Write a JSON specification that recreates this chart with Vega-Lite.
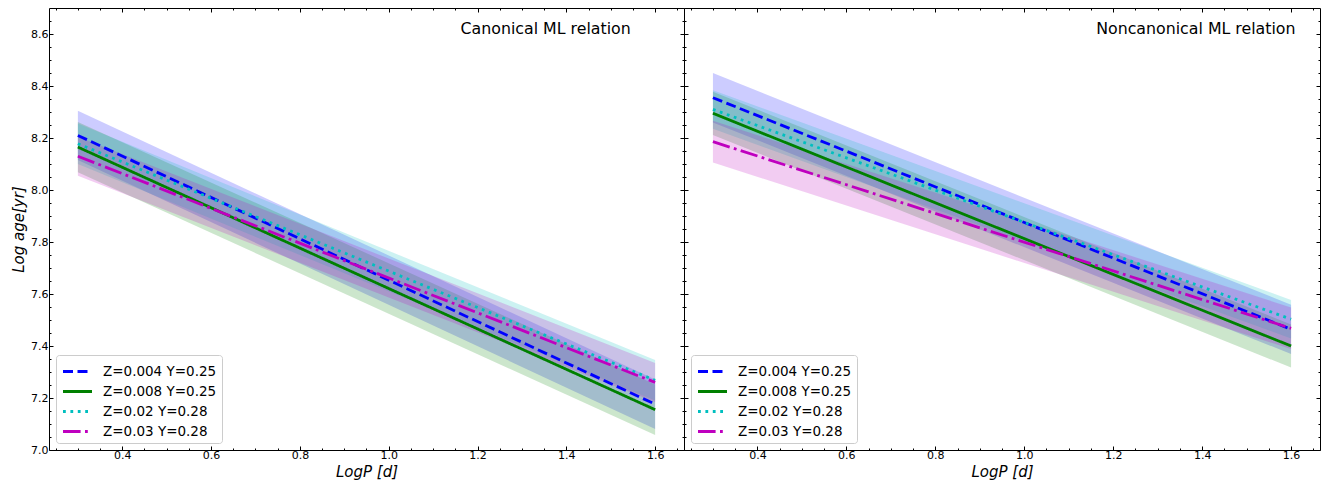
{
  "$schema": "https://vega.github.io/schema/vega-lite/v6.json",
  "padding": {"left": 11, "right": 1, "top": 7, "bottom": 4},
  "background": "white",
  "datasets": {
    "canon": [
      {"series": "Z=0.004 Y=0.25", "x": 0.3, "y": 8.21, "lo": 8.115, "hi": 8.305},
      {"series": "Z=0.004 Y=0.25", "x": 1.6, "y": 7.176, "lo": 7.081, "hi": 7.271},
      {"series": "Z=0.008 Y=0.25", "x": 0.3, "y": 8.165, "lo": 8.068, "hi": 8.262},
      {"series": "Z=0.008 Y=0.25", "x": 1.6, "y": 7.155, "lo": 7.058, "hi": 7.252},
      {"series": "Z=0.02 Y=0.28", "x": 0.3, "y": 8.178, "lo": 8.1, "hi": 8.256},
      {"series": "Z=0.02 Y=0.28", "x": 1.6, "y": 7.268, "lo": 7.19, "hi": 7.346},
      {"series": "Z=0.03 Y=0.28", "x": 0.3, "y": 8.13, "lo": 8.055, "hi": 8.205},
      {"series": "Z=0.03 Y=0.28", "x": 1.6, "y": 7.26, "lo": 7.185, "hi": 7.335}
    ],
    "noncanon": [
      {"series": "Z=0.004 Y=0.25", "x": 0.3, "y": 8.355, "lo": 8.26, "hi": 8.45},
      {"series": "Z=0.004 Y=0.25", "x": 1.6, "y": 7.464, "lo": 7.369, "hi": 7.559},
      {"series": "Z=0.008 Y=0.25", "x": 0.3, "y": 8.295, "lo": 8.212, "hi": 8.378},
      {"series": "Z=0.008 Y=0.25", "x": 1.6, "y": 7.4, "lo": 7.317, "hi": 7.483},
      {"series": "Z=0.02 Y=0.28", "x": 0.3, "y": 8.31, "lo": 8.236, "hi": 8.384},
      {"series": "Z=0.02 Y=0.28", "x": 1.6, "y": 7.503, "lo": 7.429, "hi": 7.577},
      {"series": "Z=0.03 Y=0.28", "x": 0.3, "y": 8.186, "lo": 8.106, "hi": 8.266},
      {"series": "Z=0.03 Y=0.28", "x": 1.6, "y": 7.468, "lo": 7.388, "hi": 7.548}
    ]
  },
  "hconcat": [
    {
      "width": 635,
      "height": 442,
      "data": {"name": "canon"},
      "layer": [
        {
          "mark": {"type": "area", "fillOpacity": 0.2, "strokeWidth": 0},
          "encoding": {
            "x": {"field": "x", "type": "quantitative", "scale": {"domain": [0.235, 1.665], "nice": false, "zero": false},
                  "axis": {"orient": "bottom", "values": [0.4, 0.6, 0.8, 1.0, 1.2, 1.4, 1.6], "format": ".1f", "title": "LogP [d]", "tickSize": -4, "labelPadding": 3}},
            "y": {"field": "lo", "type": "quantitative", "scale": {"domain": [7.0, 8.7], "nice": false, "zero": false},
                  "axis": {"orient": "left", "values": [7.0, 7.2, 7.4, 7.6, 7.8, 8.0, 8.2, 8.4, 8.6], "format": ".1f", "title": "Log age[yr]", "tickSize": -4, "labelPadding": 5}},
            "y2": {"field": "hi"},
            "fill": {"field": "series", "type": "nominal", "scale": {"domain": ["Z=0.03 Y=0.28", "Z=0.02 Y=0.28", "Z=0.008 Y=0.25", "Z=0.004 Y=0.25"], "range": ["#bf00bf", "#00bfbf", "#008000", "#0000ff"]}, "legend": null}
          }
        },
        {
          "mark": {"type": "line", "strokeWidth": 2.8},
          "encoding": {
            "x": {"field": "x", "type": "quantitative", "axis": {"orient": "top", "values": [0.4, 0.6, 0.8, 1.0, 1.2, 1.4, 1.6], "labels": false, "title": null, "tickSize": -4}},
            "y": {"field": "y", "type": "quantitative", "axis": {"orient": "right", "values": [7.0, 7.2, 7.4, 7.6, 7.8, 8.0, 8.2, 8.4, 8.6], "labels": false, "title": null, "tickSize": -4}},
            "color": {"field": "series", "type": "nominal", "scale": {"domain": ["Z=0.004 Y=0.25", "Z=0.008 Y=0.25", "Z=0.02 Y=0.28", "Z=0.03 Y=0.28"], "range": ["#0000ff", "#008000", "#00bfbf", "#bf00bf"]}, "legend": {"orient": "bottom-left", "title": null}},
            "strokeDash": {"field": "series", "type": "nominal", "scale": {"domain": ["Z=0.004 Y=0.25", "Z=0.008 Y=0.25", "Z=0.02 Y=0.28", "Z=0.03 Y=0.28"], "range": [[10, 4.5], [1, 0], [2.8, 4.6], [17.6, 4.4, 2.8, 4.4]]}, "legend": {"orient": "bottom-left", "title": null}}
          }
        },
        {
          "mark": {"type": "line", "strokeOpacity": 0},
          "encoding": {
            "x": {"field": "x", "type": "quantitative", "axis": {"orient": "bottom", "values": [0.25, 0.3, 0.35, 0.45, 0.5, 0.55, 0.65, 0.7, 0.75, 0.85, 0.9, 0.95, 1.05, 1.1, 1.15, 1.25, 1.3, 1.35, 1.45, 1.5, 1.55, 1.65], "labels": false, "title": null, "tickSize": -2}},
            "y": {"field": "y", "type": "quantitative", "axis": {"orient": "left", "values": [7.05, 7.1, 7.15, 7.25, 7.3, 7.35, 7.45, 7.5, 7.55, 7.65, 7.7, 7.75, 7.85, 7.9, 7.95, 8.05, 8.1, 8.15, 8.25, 8.3, 8.35, 8.45, 8.5, 8.55, 8.65], "labels": false, "title": null, "tickSize": -2}},
            "detail": {"field": "series"}
          }
        },
        {
          "mark": {"type": "line", "strokeOpacity": 0},
          "encoding": {
            "x": {"field": "x", "type": "quantitative", "axis": {"orient": "top", "values": [0.25, 0.3, 0.35, 0.45, 0.5, 0.55, 0.65, 0.7, 0.75, 0.85, 0.9, 0.95, 1.05, 1.1, 1.15, 1.25, 1.3, 1.35, 1.45, 1.5, 1.55, 1.65], "labels": false, "title": null, "tickSize": -2}},
            "y": {"field": "y", "type": "quantitative", "axis": {"orient": "right", "values": [7.05, 7.1, 7.15, 7.25, 7.3, 7.35, 7.45, 7.5, 7.55, 7.65, 7.7, 7.75, 7.85, 7.9, 7.95, 8.05, 8.1, 8.15, 8.25, 8.3, 8.35, 8.45, 8.5, 8.55, 8.65], "labels": false, "title": null, "tickSize": -2}},
            "detail": {"field": "series"}
          }
        },
        {
          "data": {"values": [{"label": "Canonical ML relation"}]},
          "mark": {"type": "text", "align": "right", "baseline": "middle", "fontSize": 15.8, "font": "DejaVu Sans", "color": "black"},
          "encoding": {
            "x": {"datum": 1.545, "type": "quantitative", "axis": null},
            "y": {"datum": 8.62, "type": "quantitative", "axis": null},
            "text": {"field": "label"}
          }
        }
      ],
      "resolve": {"axis": {"x": "independent", "y": "independent"}}
    },
    {
      "width": 636,
      "height": 442,
      "data": {"name": "noncanon"},
      "layer": [
        {
          "mark": {"type": "area", "fillOpacity": 0.2, "strokeWidth": 0},
          "encoding": {
            "x": {"field": "x", "type": "quantitative", "scale": {"domain": [0.235, 1.665], "nice": false, "zero": false},
                  "axis": {"orient": "bottom", "values": [0.4, 0.6, 0.8, 1.0, 1.2, 1.4, 1.6], "format": ".1f", "title": "LogP [d]", "tickSize": -4, "labelPadding": 3}},
            "y": {"field": "lo", "type": "quantitative", "scale": {"domain": [7.0, 8.7], "nice": false, "zero": false},
                  "axis": {"orient": "left", "values": [7.0, 7.2, 7.4, 7.6, 7.8, 8.0, 8.2, 8.4, 8.6], "labels": false, "title": null, "tickSize": -4}},
            "y2": {"field": "hi"},
            "fill": {"field": "series", "type": "nominal", "scale": {"domain": ["Z=0.03 Y=0.28", "Z=0.02 Y=0.28", "Z=0.008 Y=0.25", "Z=0.004 Y=0.25"], "range": ["#bf00bf", "#00bfbf", "#008000", "#0000ff"]}, "legend": null}
          }
        },
        {
          "mark": {"type": "line", "strokeWidth": 2.8},
          "encoding": {
            "x": {"field": "x", "type": "quantitative", "axis": {"orient": "top", "values": [0.4, 0.6, 0.8, 1.0, 1.2, 1.4, 1.6], "labels": false, "title": null, "tickSize": -4}},
            "y": {"field": "y", "type": "quantitative", "axis": {"orient": "right", "values": [7.0, 7.2, 7.4, 7.6, 7.8, 8.0, 8.2, 8.4, 8.6], "labels": false, "title": null, "tickSize": -4}},
            "color": {"field": "series", "type": "nominal", "scale": {"domain": ["Z=0.004 Y=0.25", "Z=0.008 Y=0.25", "Z=0.02 Y=0.28", "Z=0.03 Y=0.28"], "range": ["#0000ff", "#008000", "#00bfbf", "#bf00bf"]}, "legend": {"orient": "bottom-left", "title": null}},
            "strokeDash": {"field": "series", "type": "nominal", "scale": {"domain": ["Z=0.004 Y=0.25", "Z=0.008 Y=0.25", "Z=0.02 Y=0.28", "Z=0.03 Y=0.28"], "range": [[10, 4.5], [1, 0], [2.8, 4.6], [17.6, 4.4, 2.8, 4.4]]}, "legend": {"orient": "bottom-left", "title": null}}
          }
        },
        {
          "mark": {"type": "line", "strokeOpacity": 0},
          "encoding": {
            "x": {"field": "x", "type": "quantitative", "axis": {"orient": "bottom", "values": [0.25, 0.3, 0.35, 0.45, 0.5, 0.55, 0.65, 0.7, 0.75, 0.85, 0.9, 0.95, 1.05, 1.1, 1.15, 1.25, 1.3, 1.35, 1.45, 1.5, 1.55, 1.65], "labels": false, "title": null, "tickSize": -2}},
            "y": {"field": "y", "type": "quantitative", "axis": {"orient": "left", "values": [7.05, 7.1, 7.15, 7.25, 7.3, 7.35, 7.45, 7.5, 7.55, 7.65, 7.7, 7.75, 7.85, 7.9, 7.95, 8.05, 8.1, 8.15, 8.25, 8.3, 8.35, 8.45, 8.5, 8.55, 8.65], "labels": false, "title": null, "tickSize": -2}},
            "detail": {"field": "series"}
          }
        },
        {
          "mark": {"type": "line", "strokeOpacity": 0},
          "encoding": {
            "x": {"field": "x", "type": "quantitative", "axis": {"orient": "top", "values": [0.25, 0.3, 0.35, 0.45, 0.5, 0.55, 0.65, 0.7, 0.75, 0.85, 0.9, 0.95, 1.05, 1.1, 1.15, 1.25, 1.3, 1.35, 1.45, 1.5, 1.55, 1.65], "labels": false, "title": null, "tickSize": -2}},
            "y": {"field": "y", "type": "quantitative", "axis": {"orient": "right", "values": [7.05, 7.1, 7.15, 7.25, 7.3, 7.35, 7.45, 7.5, 7.55, 7.65, 7.7, 7.75, 7.85, 7.9, 7.95, 8.05, 8.1, 8.15, 8.25, 8.3, 8.35, 8.45, 8.5, 8.55, 8.65], "labels": false, "title": null, "tickSize": -2}},
            "detail": {"field": "series"}
          }
        },
        {
          "data": {"values": [{"label": "Noncanonical ML relation"}]},
          "mark": {"type": "text", "align": "right", "baseline": "middle", "fontSize": 15.8, "font": "DejaVu Sans", "color": "black"},
          "encoding": {
            "x": {"datum": 1.61, "type": "quantitative", "axis": null},
            "y": {"datum": 8.62, "type": "quantitative", "axis": null},
            "text": {"field": "label"}
          }
        }
      ],
      "resolve": {"axis": {"x": "independent", "y": "independent"}}
    }
  ],
  "spacing": 0,
  "bounds": "flush",
  "resolve": {
    "scale": {"x": "independent", "y": "independent", "fill": "independent", "color": "independent", "strokeDash": "independent"},
    "legend": {"color": "independent", "strokeDash": "independent"}
  },
  "config": {
    "font": "DejaVu Sans",
    "view": {"stroke": "black", "strokeWidth": 1},
    "axis": {
      "grid": false,
      "domain": false,
      "minExtent": 0,
      "tickColor": "black",
      "tickWidth": 1,
      "labelFont": "DejaVu Sans",
      "labelFontSize": 11,
      "labelColor": "black",
      "titleFont": "DejaVu Sans",
      "titleFontSize": 15,
      "titleFontWeight": "normal",
      "titleFontStyle": "italic",
      "titleColor": "black"
    },
    "legend": {
      "offset": 7,
      "symbolType": "M-1.45,0H1.45",
      "symbolStrokeWidth": 2.8,
      "symbolSize": 400,
      "symbolOffset": 5,
      "labelFont": "DejaVu Sans",
      "labelFontSize": 13.5,
      "labelColor": "black",
      "labelOffset": 14,
      "fillColor": "white",
      "strokeColor": "#cccccc",
      "cornerRadius": 3,
      "padding": 5,
      "rowPadding": 2
    }
  }
}
